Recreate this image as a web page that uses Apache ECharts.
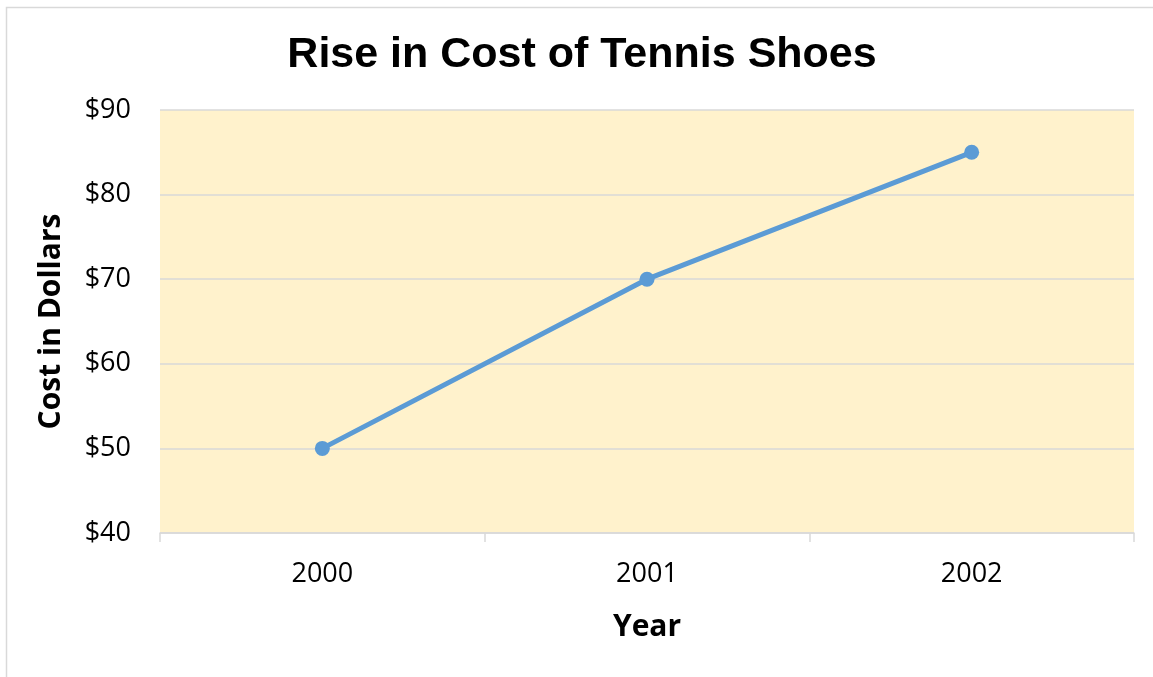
<!DOCTYPE html>
<html><head><meta charset="utf-8">
<script src="https://cdn.jsdelivr.net/npm/echarts@6/dist/echarts.min.js"></script>
<style>html,body{margin:0;padding:0;background:#fff}#c{width:1153px;height:677px}</style>
</head><body><div id="c"></div>
<script>
const years = ['2000', '2001', '2002'];
const cost = [50, 70, 85];
const yTicks = { min: 40, max: 90, step: 10 };

const chart = echarts.init(document.getElementById('c'));
chart.setOption({
  animation: false,
  backgroundColor: '#fff',
  title: {
    text: 'Rise in Cost of Tennis Shoes',
    left: 577, top: 29, textAlign: 'center',
    textStyle: { fontFamily: 'Liberation Sans', fontWeight: 'bold', fontSize: 43, color: '#000' }
  },
  graphic: [{
    type: 'rect', shape: { x: 6.5, y: 7.5, width: 1160, height: 700 },
    style: { fill: 'none', stroke: '#d9d9d9', lineWidth: 1.5 }, silent: true
  }],
  grid: { left: 160, right: 19, top: 110, bottom: 144, show: true, backgroundColor: '#FFF2CC', borderWidth: 0 },
  xAxis: {
    type: 'category', data: years, boundaryGap: true,
    name: 'Year', nameLocation: 'middle', nameGap: 79,
    nameTextStyle: { fontFamily: 'Open Sans', fontWeight: 'bold', fontSize: 30, color: '#000' },
    axisLine: { show: true, lineStyle: { color: '#d9d9d9', width: 1.5 } },
    axisTick: { show: true, interval: 0, length: 9, lineStyle: { color: '#d9d9d9', width: 1.5 } },
    axisLabel: { fontFamily: 'Open Sans', fontSize: 27, color: '#000', margin: 28 }
  },
  yAxis: {
    type: 'value', min: yTicks.min, max: yTicks.max, interval: yTicks.step,
    name: 'Cost in Dollars', nameLocation: 'middle', nameGap: 94, nameRotate: 90,
    nameTextStyle: { fontFamily: 'Open Sans', fontWeight: 'bold', fontSize: 30, color: '#000' },
    axisLine: { show: false }, axisTick: { show: false },
    axisLabel: { fontFamily: 'Open Sans', fontSize: 27, color: '#000', margin: 29, formatter: v => '$' + v },
    splitLine: { lineStyle: { color: '#d9d9d9', width: 1.5 } }
  },
  series: [{
    type: 'line', data: cost,
    lineStyle: { color: '#5B9BD5', width: 5 },
    itemStyle: { color: '#5B9BD5' },
    symbol: 'circle', symbolSize: 15
  }]
});
</script></body></html>
